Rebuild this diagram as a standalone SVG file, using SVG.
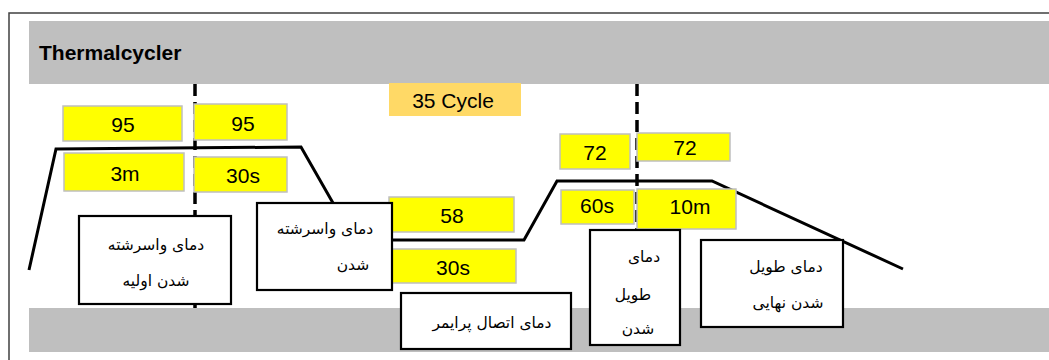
<svg xmlns="http://www.w3.org/2000/svg" width="1049" height="360" viewBox="0 0 1049 360">
<style>
.band{fill:#bfbfbf}
.y{fill:#ffff00;stroke:#bfbfbf;stroke-width:1.5}
.c{fill:#ffd966}
.w{fill:#ffffff;stroke:#000;stroke-width:2.2}
.t{font-family:"Liberation Sans",Arial,sans-serif;font-size:21px;fill:#000;text-anchor:middle}
.fa{font-family:"DejaVu Sans",sans-serif;font-size:15.5px;fill:#000;text-anchor:middle;direction:rtl}
.dash{stroke:#000;stroke-width:3.5;stroke-dasharray:12 6;fill:none}
.ln{stroke:#000;stroke-width:3;fill:none;stroke-linejoin:miter}
</style>
<rect x="0" y="0" width="1049" height="360" fill="#fff"/>
<rect x="9" y="13" width="1100" height="400" fill="none" stroke="#404040" stroke-width="1.5"/>
<g id="bands">
<rect class="band" x="29" y="21" width="1020" height="63"/>
<rect class="band" x="29" y="308" width="1020" height="44"/>
<text x="39" y="60" font-family="Liberation Sans,Arial,sans-serif" font-size="21" font-weight="bold" fill="#000">Thermalcycler</text>
</g>
<g id="connectors">
<line class="dash" x1="195" y1="84" x2="195" y2="308"/>
<line class="dash" x1="637" y1="84" x2="637" y2="230"/>
<polyline class="ln" points="29,270 56,149 301,147 333,203"/>
<polyline class="ln" points="392,240 524,240 557,181 712,181 903,269"/>
</g>
<g id="cycle"><rect class="c" x="389" y="83" width="132" height="33"/><text class="t" x="453" y="108">35 Cycle</text></g>
<g id="t95a"><rect class="y" x="63" y="106" width="119" height="35"/><text class="t" x="123" y="132">95</text></g>
<g id="t95b"><rect class="y" x="194" y="104" width="93" height="36"/><text class="t" x="243" y="131">95</text></g>
<g id="t3m"><rect class="y" x="64" y="153" width="120" height="38"/><text class="t" x="125" y="181">3m</text></g>
<g id="t30a"><rect class="y" x="194" y="157" width="93" height="35"/><text class="t" x="243" y="183">30s</text></g>
<g id="t58"><rect class="y" x="389" y="197" width="125" height="35"/><text class="t" x="452" y="223">58</text></g>
<g id="t30b"><rect class="y" x="392" y="249" width="124" height="34"/><text class="t" x="453" y="275">30s</text></g>
<g id="t72a"><rect class="y" x="560" y="134" width="70" height="35"/><text class="t" x="595" y="160">72</text></g>
<g id="t72b"><rect class="y" x="637" y="133" width="93" height="28"/><text class="t" x="685" y="155">72</text></g>
<g id="t60"><rect class="y" x="561" y="190" width="73" height="34"/><text class="t" x="597" y="213">60s</text></g>
<g id="t10"><rect class="y" x="637" y="189" width="99" height="40"/><text class="t" x="690" y="214">10m</text></g>
<g id="b1"><rect class="w" x="79" y="216" width="152" height="88"/>
<text class="fa" x="156" y="250">دمای واسرشته</text><text class="fa" x="156" y="286">شدن اولیه</text></g>
<g id="b2"><rect class="w" x="257" y="203" width="135" height="87"/>
<text class="fa" x="325" y="234">دمای واسرشته</text><text class="fa" x="353" y="270">شدن</text></g>
<g id="b3"><rect class="w" x="401" y="293" width="170" height="56"/>
<text class="fa" x="492" y="328">دمای اتصال پرایمر</text></g>
<g id="b4"><rect class="w" x="590" y="230" width="90" height="115"/>
<text class="fa" x="644" y="262">دمای</text><text class="fa" x="633" y="300">طویل</text><text class="fa" x="638" y="334">شدن</text></g>
<g id="b5"><rect class="w" x="701" y="240" width="142" height="87"/>
<text class="fa" x="786" y="272">دمای طویل</text><text class="fa" x="788" y="308">شدن نهایی</text></g>
</svg>
